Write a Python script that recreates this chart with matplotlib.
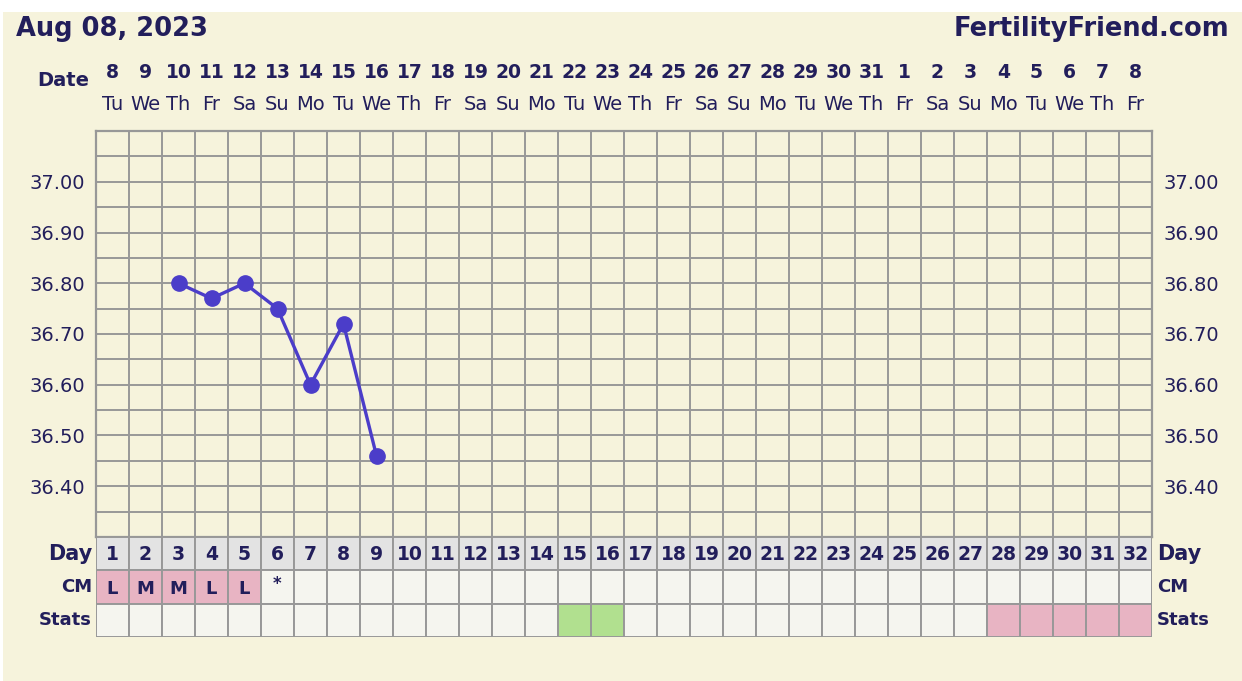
import numpy as np
import matplotlib
matplotlib.use("Agg")
import matplotlib.pyplot as plt
from matplotlib import transforms
from matplotlib.patches import Rectangle

# chart data
date_nums = [8, 9, 10, 11, 12, 13, 14, 15, 16, 17, 18, 19, 20, 21, 22, 23,
             24, 25, 26, 27, 28, 29, 30, 31, 1, 2, 3, 4, 5, 6, 7, 8]
weekdays = ["Tu", "We", "Th", "Fr", "Sa", "Su", "Mo"] * 4 + ["Tu", "We", "Th", "Fr"]
cycle_days = list(range(1, 33))
temp_days = [3, 4, 5, 6, 7, 8, 9]
temps = [36.80, 36.77, 36.80, 36.75, 36.60, 36.72, 36.46]
cm_days = [1, 2, 3, 4, 5]
cm_codes = ["L", "M", "M", "L", "L"]
cm_mark_day = 6
fertile_days = [15, 16]
period_days = [28, 29, 30, 31, 32]
ytick_vals = [36.40, 36.50, 36.60, 36.70, 36.80, 36.90, 37.00]

W, H = 1242, 681
navy = "#221e5b"
gridc = "#989898"
cream = "#f6f3dc"
pink = "#e8b4c3"
green = "#b1e08f"
cell = "#f5f5ef"
dayrow = "#e3e3e3"
linec = "#4b3dc9"

fig = plt.figure(figsize=(W / 100, H / 100), dpi=100, facecolor="white")
fig.patches.append(Rectangle((3 / W, 0), 1, (H - 12) / H, transform=fig.transFigure,
                             facecolor=cream, edgecolor="none", zorder=-10))

def px(x0, y0, x1, y1):
    return [x0 / W, 1 - y1 / H, (x1 - x0) / W, (y1 - y0) / H]

# temperature grid
ax = fig.add_axes(px(96, 131, 1152, 537))
ax.set_facecolor("none")
ax.set_xlim(0.5, 32.5)
ax.set_ylim(36.30, 37.10)
ax.set_xticks(np.arange(0.5, 33, 1), minor=True)
ax.set_xticks([])
ax.set_yticks(ytick_vals)
ax.set_yticklabels([f"{v:.2f}" for v in ytick_vals])
ax.set_yticks(np.arange(36.30, 37.11, 0.05), minor=True)
ax.grid(True, which="minor", color=gridc, linewidth=1.4)
ax.grid(True, which="major", axis="y", color=gridc, linewidth=1.4)
ax.tick_params(which="both", length=0, labelsize=14, labelcolor=navy,
               labelright=True, pad=8)
for s in ax.spines.values():
    s.set_color(gridc)
    s.set_linewidth(1.6)

ax.plot(temp_days, temps, color=linec, linewidth=2.4, marker="o",
        markersize=11, zorder=5, clip_on=False)

# dates on top
tr = transforms.blended_transform_factory(ax.transData, fig.transFigure)
for d, n, w in zip(cycle_days, date_nums, weekdays):
    ax.text(d, 1 - 72 / H, str(n), transform=tr, ha="center", va="center",
            fontsize=13.5, fontweight="bold", color=navy)
    ax.text(d, 1 - 104 / H, w, transform=tr, ha="center", va="center",
            fontsize=14, color=navy)
fig.text(89 / W, 1 - 80 / H, "Date", ha="right", va="center", fontsize=14,
         fontweight="bold", color=navy)
fig.text(16 / W, 1 - 29 / H, "Aug 08, 2023", ha="left", va="center",
         fontsize=18.5, fontweight="bold", color=navy)
fig.text(1229 / W, 1 - 29 / H, "FertilityFriend.com", ha="right", va="center",
         fontsize=18.5, fontweight="bold", color=navy)

# table rows: Day, CM, Stats
tb = fig.add_axes(px(96, 537, 1152, 637))
tb.set_xlim(0.5, 32.5)
tb.set_ylim(3, 0)
tb.axis("off")

tb.bar(cycle_days, 1, bottom=0, width=1, color=dayrow, edgecolor=gridc,
       linewidth=1.4, align="center")
cm_colors = [pink if d in cm_days else cell for d in cycle_days]
tb.bar(cycle_days, 1, bottom=1, width=1, color=cm_colors, edgecolor=gridc,
       linewidth=1.4)
st_colors = [green if d in fertile_days else pink if d in period_days else cell
             for d in cycle_days]
tb.bar(cycle_days, 1, bottom=2, width=1, color=st_colors, edgecolor=gridc,
       linewidth=1.4)

for d in cycle_days:
    tb.text(d, 0.52, str(d), ha="center", va="center", fontsize=13.5,
            fontweight="bold", color=navy)
for d, c in zip(cm_days, cm_codes):
    tb.text(d, 1.55, c, ha="center", va="center", fontsize=13,
            fontweight="bold", color=navy)
tb.text(cm_mark_day, 1.4, "*", ha="center", va="center", fontsize=12,
        fontweight="bold", color=navy)

rt = transforms.blended_transform_factory(fig.transFigure, tb.transData)
for row, lab in enumerate(["Day", "CM", "Stats"]):
    fs = 15 if lab == "Day" else 13
    fig.text(92 / W, 0, lab, transform=rt, ha="right", va="center",
             fontsize=fs, fontweight="bold", color=navy).set_y(row + 0.5)
    fig.text(1157 / W, 0, lab, transform=rt, ha="left", va="center",
             fontsize=fs, fontweight="bold", color=navy).set_y(row + 0.5)

fig.savefig("out.png", dpi=100, facecolor=fig.get_facecolor())
